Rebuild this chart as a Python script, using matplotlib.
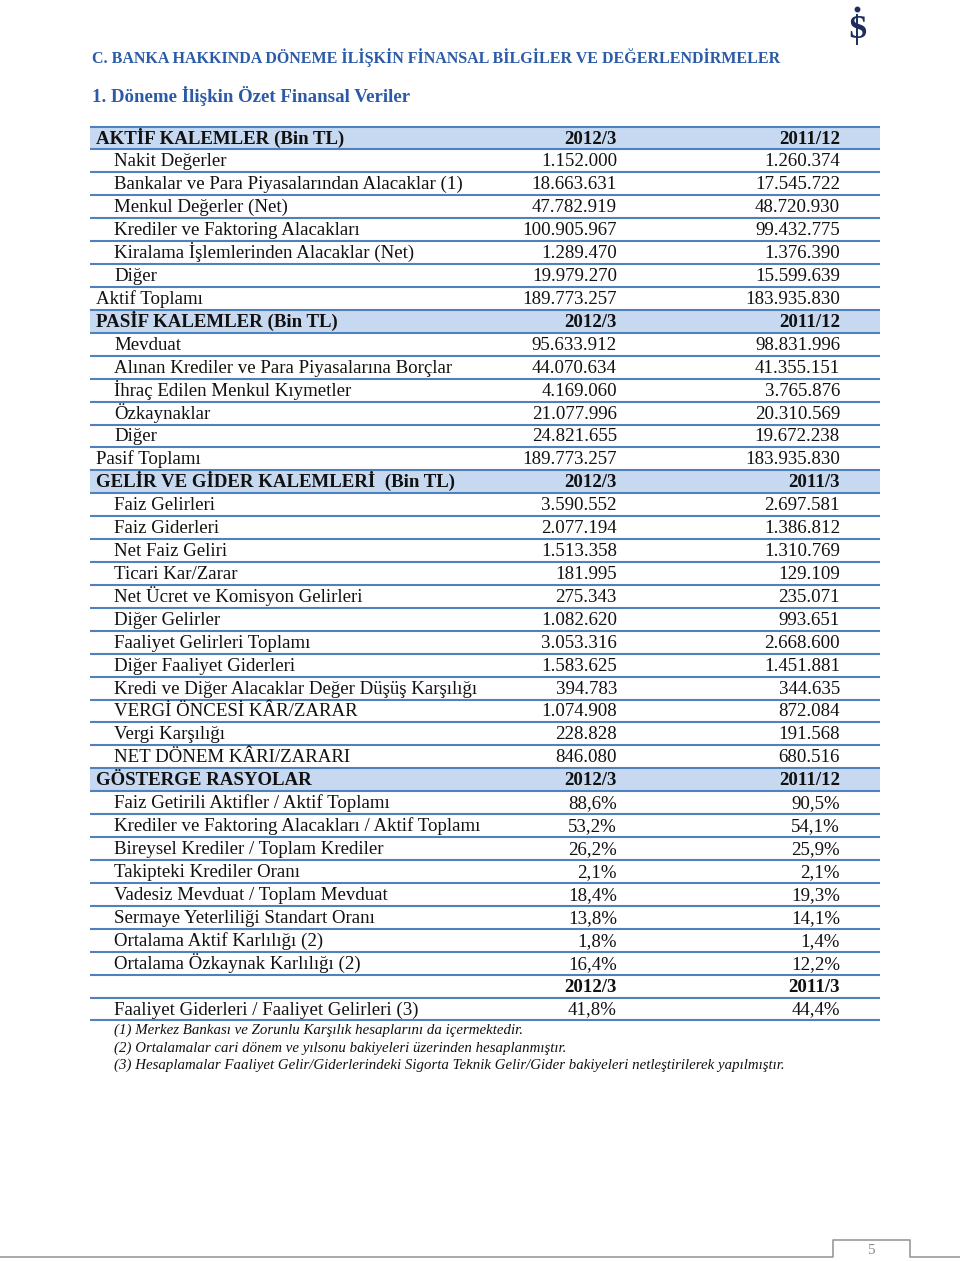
import matplotlib.pyplot as plt

# -------------------------------
# Data (Bin TL)
# -------------------------------
aktif_labels = ["Nakit Değerler", "Bankalar ve Para Piyasalarından Alacaklar (1)",
                "Menkul Değerler (Net)", "Krediler ve Faktoring Alacakları",
                "Kiralama İşlemlerinden Alacaklar (Net)", "Diğer"]
aktif_2012 = [1152000, 18663631, 47782919, 100905967, 1289470, 19979270]
aktif_2011 = [1260374, 17545722, 48720930, 99432775, 1376390, 15599639]
aktif_total = [189773257, 183935830]

pasif_labels = ["Mevduat", "Alınan Krediler ve Para Piyasalarına Borçlar",
                "İhraç Edilen Menkul Kıymetler", "Özkaynaklar", "Diğer"]
pasif_2012 = [95633912, 44070634, 4169060, 21077996, 24821655]
pasif_2011 = [98831996, 41355151, 3765876, 20310569, 19672238]
pasif_total = [189773257, 183935830]

gelir_labels = ["Faiz Gelirleri", "Faiz Giderleri", "Net Faiz Geliri", "Ticari Kar/Zarar",
                "Net Ücret ve Komisyon Gelirleri", "Diğer Gelirler",
                "Faaliyet Gelirleri Toplamı", "Diğer Faaliyet Giderleri",
                "Kredi ve Diğer Alacaklar Değer Düşüş Karşılığı",
                "VERGİ ÖNCESİ KÂR/ZARAR", "Vergi Karşılığı", "NET DÖNEM KÂRI/ZARARI"]
gelir_2012 = [3590552, 2077194, 1513358, 181995, 275343, 1082620,
              3053316, 1583625, 394783, 1074908, 228828, 846080]
gelir_2011 = [2697581, 1386812, 1310769, 129109, 235071, 993651,
              2668600, 1451881, 344635, 872084, 191568, 680516]

rasyo_labels = ["Faiz Getirili Aktifler / Aktif Toplamı",
                "Krediler ve Faktoring Alacakları / Aktif Toplamı",
                "Bireysel Krediler / Toplam Krediler", "Takipteki Krediler Oranı",
                "Vadesiz Mevduat / Toplam Mevduat", "Sermaye Yeterliliği Standart Oranı",
                "Ortalama Aktif Karlılığı (2)", "Ortalama Özkaynak Karlılığı (2)"]
rasyo_2012 = [88.6, 53.2, 26.2, 2.1, 18.4, 13.8, 1.8, 16.4]
rasyo_2011 = [90.5, 54.1, 25.9, 2.1, 19.3, 14.1, 1.4, 12.2]

verim_label = "Faaliyet Giderleri / Faaliyet Gelirleri (3)"
verim = [41.8, 44.4]

footnotes = ["(1) Merkez Bankası ve Zorunlu Karşılık hesaplarını da içermektedir.",
             "(2) Ortalamalar cari dönem ve yılsonu bakiyeleri üzerinden hesaplanmıştır.",
             "(3) Hesaplamalar Faaliyet Gelir/Giderlerindeki Sigorta Teknik Gelir/Gider bakiyeleri netleştirilerek yapılmıştır."]

title = "C. BANKA HAKKINDA DÖNEME İLİŞKİN FİNANSAL BİLGİLER VE DEĞERLENDİRMELER"
subtitle = "1. Döneme İlişkin Özet Finansal Veriler"


def num(v):
    return f"{v:,}".replace(",", ".")


def pct(v):
    return f"{v:.1f}%".replace(".", ",")


# -------------------------------
# Build table rows
# -------------------------------
rows = [("head", "AKTİF KALEMLER (Bin TL)", "2012/3", "2011/12")]
rows += [("item", l, num(a), num(b)) for l, a, b in zip(aktif_labels, aktif_2012, aktif_2011)]
rows += [("total", "Aktif Toplamı", num(aktif_total[0]), num(aktif_total[1]))]
rows += [("head", "PASİF KALEMLER (Bin TL)", "2012/3", "2011/12")]
rows += [("item", l, num(a), num(b)) for l, a, b in zip(pasif_labels, pasif_2012, pasif_2011)]
rows += [("total", "Pasif Toplamı", num(pasif_total[0]), num(pasif_total[1]))]
rows += [("head", "GELİR VE GİDER KALEMLERİ  (Bin TL)", "2012/3", "2011/3")]
rows += [("item", l, num(a), num(b)) for l, a, b in zip(gelir_labels, gelir_2012, gelir_2011)]
rows += [("head", "GÖSTERGE RASYOLAR", "2012/3", "2011/12")]
rows += [("item", l, pct(a), pct(b)) for l, a, b in zip(rasyo_labels, rasyo_2012, rasyo_2011)]
rows += [("sub", "", "2012/3", "2011/3")]
rows += [("item", verim_label, pct(verim[0]), pct(verim[1]))]

# -------------------------------
# Draw
# -------------------------------
plt.rcParams["font.family"] = ["Liberation Serif", "DejaVu Serif"]
fig = plt.figure(figsize=(9.6, 12.61), dpi=100)
ax = fig.add_axes([0, 0, 1, 1])
ax.set_xlim(0, 960)
ax.set_ylim(1261, 0)
ax.axis("off")
renderer = fig.canvas.get_renderer()


def fit(t, width):
    w = t.get_window_extent(renderer).width
    t.set_fontsize(t.get_fontsize() * width / w)


blue_title = "#2a5aa8"
line_col = "#4f81bd"
fill_col = "#c6d9f1"
txt_col = "#111111"

t = ax.text(92, 63, title, color=blue_title, fontweight="bold", fontsize=12, va="baseline")
fit(t, 686)
t = ax.text(92, 102, subtitle, color=blue_title, fontweight="bold", fontsize=12, va="baseline")
fit(t, 317)

# logo
logo_col = "#1c2d5e"
ax.text(857, 29, "S", color=logo_col, fontsize=24, fontweight="bold", ha="center", va="center")
ax.plot([857, 857], [15, 44], color=logo_col, lw=1.4)
ax.plot([857], [9], "o", color=logo_col, ms=3.2)

# body font size from a reference label width
probe = ax.text(0, -100, "Bankalar ve Para Piyasalarından Alacaklar (1)", fontsize=12)
fit(probe, 347)
fs = probe.get_fontsize()
probe.remove()

y0 = 138
pitch = 22.92
x_left, x_right = 90, 880
c1, c2 = 617, 840

for i, (kind, label, v1, v2) in enumerate(rows):
    y = y0 + i * pitch
    if kind == "head":
        ax.fill_between([x_left, x_right], y - pitch / 2, y + pitch / 2, color=fill_col, lw=0)
    bold = "bold" if kind in ("head", "sub") else "normal"
    lx = 114 if kind == "item" else 96
    yb = y + 5.5
    ax.text(lx, yb, label, fontsize=fs, fontweight=bold, color=txt_col, va="baseline")
    ax.text(c1, yb, v1, fontsize=fs, fontweight=bold, color=txt_col, va="baseline", ha="right")
    ax.text(c2, yb, v2, fontsize=fs, fontweight=bold, color=txt_col, va="baseline", ha="right")

for k in range(len(rows) + 1):
    y = y0 - pitch / 2 + k * pitch
    ax.plot([x_left, x_right], [y, y], color=line_col, lw=1.5, solid_capstyle="butt")

# footnotes
notes = []
for j, note in enumerate(footnotes):
    notes.append(ax.text(114, 1034 + j * 17.5, note, fontsize=10, style="italic",
                         color=txt_col, va="baseline"))
fit(notes[2], 672)
for n in notes:
    n.set_fontsize(notes[2].get_fontsize())

# page footer
ax.plot([0, 833, 833, 910, 910, 960], [1257, 1257, 1240, 1240, 1257, 1257], color="#9a9a9a", lw=1.2)
ax.text(871, 1251, "5", color="#8a8a8a", fontsize=11, ha="center", va="center")

fig.savefig("out.png", dpi=100)
